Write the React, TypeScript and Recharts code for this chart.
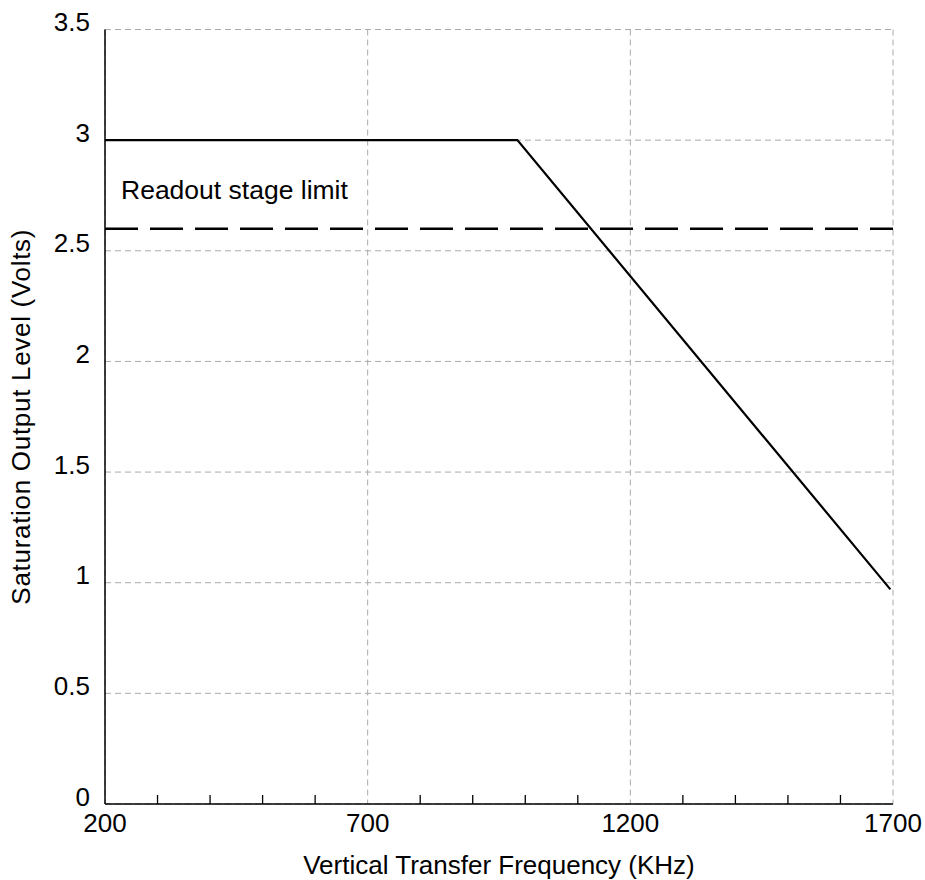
// Saturation output level vs. vertical transfer frequency
import React from "react";
import {
  LineChart, Line, XAxis, YAxis, CartesianGrid, ReferenceLine,
} from "recharts";

const freq = [200, 985, 1695];
const volts = [3, 3, 0.97];
const xTicks = [200, 700, 1200, 1700];
const xMinorTicks = [300, 400, 500, 600, 800, 900, 1000, 1100, 1300, 1400, 1500, 1600];
const yTicks = [0, 0.5, 1, 1.5, 2, 2.5, 3, 3.5];
const readoutLimit = 2.6;

const data = freq.map((f, i) => ({ f, v: volts[i] }));

const FONT = "'Liberation Sans', Arial, Helvetica, sans-serif";
const MAIN_X = 1;
const MINOR_X = 0;

function XTick(props: any) {
  const { x, y, payload } = props;
  return (
    <text x={x} y={y + 28} textAnchor="middle" fontSize={26} fontFamily={FONT} fill="#000">
      {payload.value}
    </text>
  );
}

function YTick(props: any) {
  const { x, y, payload } = props;
  return (
    <text x={x} y={y + 1.5} textAnchor="end" fontSize={26} fontFamily={FONT} fill="#000">
      {payload.value}
    </text>
  );
}

export default function App() {
  return (
    <div style={{ position: "absolute", left: 0, top: 0, width: 925, height: 880, background: "#fff" }}>
      <LineChart
        width={925}
        height={880}
        data={data}
        margin={{ top: 29.5, right: 32, left: 0, bottom: 0 }}
      >
        <CartesianGrid xAxisId={MAIN_X} stroke="#aaaaaa" strokeDasharray="6 4" strokeWidth={1} />
        <XAxis
          xAxisId={MINOR_X}
          dataKey="f"
          type="number"
          domain={[200, 1700]}
          ticks={xMinorTicks}
          height={1}
          mirror
          tickSize={9}
          axisLine={{ stroke: "#000", strokeWidth: 1.5 }}
          tickLine={{ stroke: "#000", strokeWidth: 1.3 }}
          tick={() => <g />}
          interval={0}
        />
        <XAxis
          xAxisId={MAIN_X}
          dataKey="f"
          type="number"
          domain={[200, 1700]}
          ticks={xTicks}
          height={76}
          tickSize={0}
          tickMargin={0}
          axisLine={false}
          tickLine={false}
          tick={<XTick />}
          interval={0}
          label={(p: any) => {
            const vb = p.viewBox;
            return (
              <text x={vb.x + vb.width / 2} y={874} textAnchor="middle" fontSize={26} fontFamily={FONT} fill="#000">
                Vertical Transfer Frequency (KHz)
              </text>
            );
          }}
        />
        <YAxis
          type="number"
          domain={[0, 3.5]}
          ticks={yTicks}
          width={105}
          tickSize={0}
          tickMargin={15}
          axisLine={{ stroke: "#000", strokeWidth: 1.5 }}
          tickLine={false}
          tick={<YTick />}
          interval={0}
          label={(p: any) => {
            const vb = p.viewBox;
            const cy = vb.y + vb.height / 2;
            return (
              <text
                x={30}
                y={cy}
                transform={`rotate(-90, 30, ${cy})`}
                textAnchor="middle"
                fontSize={26}
                letterSpacing={0.7}
                fontFamily={FONT}
                fill="#000"
              >
                Saturation Output Level (Volts)
              </text>
            );
          }}
        />
        <ReferenceLine
          xAxisId={MAIN_X}
          y={readoutLimit}
          stroke="#000"
          strokeWidth={2.5}
          strokeDasharray="33 12"
          label={(p: any) => {
            const vb = p.viewBox;
            return (
              <text x={vb.x + 16} y={vb.y - 30} fontSize={26.5} fontFamily={FONT} fill="#000">
                Readout stage limit
              </text>
            );
          }}
        />
        <Line
          xAxisId={MAIN_X}
          dataKey="v"
          type="linear"
          stroke="#000"
          strokeWidth={2.2}
          dot={false}
          activeDot={false}
          isAnimationActive={false}
        />
      </LineChart>
    </div>
  );
}
